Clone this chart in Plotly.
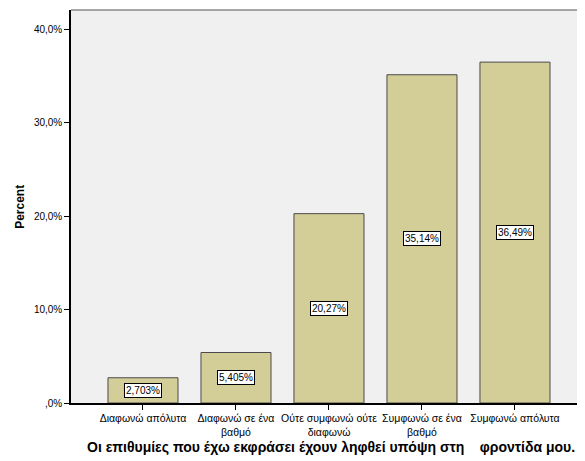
import plotly.graph_objects as go

categories = ["Διαφωνώ απόλυτα", "Διαφωνώ σε ένα<br>βαθμό", "Ούτε συμφωνώ ούτε<br>διαφωνώ",
              "Συμφωνώ σε ένα<br>βαθμό", "Συμφωνώ απόλυτα"]
values = [2.703, 5.405, 20.27, 35.14, 36.49]
value_labels = ["2,703%", "5,405%", "20,27%", "35,14%", "36,49%"]
ytick_vals = [0, 10, 20, 30, 40]
ytick_text = [",0%", "10,0%", "20,0%", "30,0%", "40,0%"]

FONT = "Liberation Sans, Arial, sans-serif"
xs = list(range(len(categories)))

fig = go.Figure()
fig.add_trace(go.Bar(
    x=xs, y=values, width=0.753,
    marker=dict(color="#D3CE97", line=dict(color="#4a4a4a", width=1)),
    hoverinfo="skip",
))

for i, (v, t) in enumerate(zip(values, value_labels)):
    fig.add_annotation(x=i, y=v / 2, text=t, showarrow=False,
                       bgcolor="white", bordercolor="black", borderwidth=1, borderpad=1,
                       font=dict(family=FONT, size=10, color="black"))

fig.add_annotation(xref="paper", yref="paper", x=0.498, y=-0.112, xanchor="center", yanchor="middle",
                   text="<b>Οι επιθυμίες που έχω εκφράσει έχουν ληφθεί υπόψη στη    φροντίδα μου.</b>",
                   showarrow=False, font=dict(family=FONT, size=14, color="black"))
fig.add_annotation(xref="paper", yref="paper", x=-0.099, y=0.5, xanchor="center", yanchor="middle",
                   textangle=-90, text="<b>Percent</b>", showarrow=False,
                   font=dict(family=FONT, size=12, color="black"))

fig.add_shape(type="line", xref="paper", yref="paper", x0=0, x1=1, y0=1, y1=1,
              line=dict(color="#8a8a8a", width=1.5))

fig.update_layout(
    width=585, height=461,
    margin=dict(l=63, r=0, t=2, b=66),
    paper_bgcolor="white", plot_bgcolor="#F0F0F0",
    showlegend=False,
    font=dict(family=FONT, size=10, color="black"),
    xaxis=dict(tickmode="array", tickvals=xs, ticktext=categories,
               range=[-0.774, 4.839], showgrid=False, zeroline=False,
               showline=True, linecolor="black", linewidth=1.5,
               ticks="outside", ticklen=5, tickcolor="black",
               tickfont=dict(family=FONT, size=10.5, color="black")),
    yaxis=dict(tickmode="array", tickvals=ytick_vals, ticktext=ytick_text,
               range=[0, 42.07], showgrid=False, zeroline=False,
               showline=True, linecolor="black", linewidth=1.5,
               ticks="outside", ticklen=5, tickcolor="black",
               tickfont=dict(family=FONT, size=10, color="black")),
)

fig.write_html("out.html")
